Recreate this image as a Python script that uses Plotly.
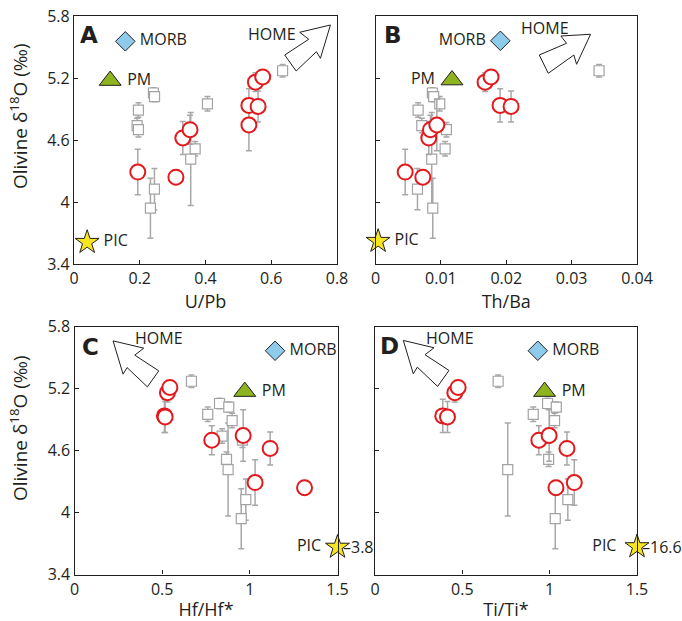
import plotly.graph_objects as go

# ---------------- data ----------------
# This study (red open circles): olivine d18O and errors (shared y across panels)
red_d18o = [4.29, 4.24, 4.62, 4.70, 4.745, 4.935, 4.925, 5.16, 5.21]
red_err = [0.22, 0.07, 0.16, 0.14, 0.25, 0.16, 0.15, 0.09, 0.06]
red_upb = [0.194, 0.310, 0.331, 0.353, 0.532, 0.532, 0.560, 0.552, 0.574]
red_thba = [0.00454, 0.00724, 0.00815, 0.0084, 0.00938, 0.01906, 0.02074, 0.01676, 0.01768]
red_hf = [1.030, 1.312, 1.116, 0.783, 0.962, 0.513, 0.517, 0.530, 0.544]
red_ti = [1.141, 1.036, 1.099, 0.938, 0.997, 0.388, 0.415, 0.457, 0.476]

# Literature data (gray open squares)
gray_d18o = [5.27, 5.055, 5.02, 4.95, 4.89, 4.74, 4.70, 4.515, 4.415, 4.125, 3.94]
gray_err = [0.06, 0.05, 0.05, 0.07, 0.07, 0.07, 0.07, 0.07, 0.45, 0.20, 0.29]
gray_upb = [0.6345, 0.2416, 0.245, 0.406, 0.196, 0.192, 0.196, 0.3685, 0.355, 0.2447, 0.2325]
gray_thba = [0.0342, 0.0087, 0.0089, 0.00983, 0.00652, 0.00708, 0.01085, 0.01065, 0.0086, 0.00642, 0.00876]
gray_hf = [0.667, 0.827, 0.880, 0.760, 0.899, 0.842, 0.958, 0.867, 0.876, 0.977, 0.951]
gray_ti = [0.705, 0.988, 1.038, 0.906, 1.028, 0.995, 0.940, 0.994, 0.760, 1.104, 1.032]

# Reference end-members per panel (A, B, C, D)
morb_x = [0.156, 0.0191, 1.144, 0.932]
morb_y = [5.555, 5.56, 5.565, 5.565]
pm_x = [0.110, 0.0117, 0.971, 0.971]
pm_y = [5.175, 5.18, 5.17, 5.17]
pic_x = [0.04, 0.0004, 1.5, 1.5]
pic_y = [3.61, 3.62, 3.665, 3.67]
pic_offscale = [None, None, "3.8", "16.6"]

# HOME label / arrow tip positions per panel
home_x = [0.603, 0.0259, 0.483, 0.43]
home_y = [5.623, 5.681, 5.688, 5.687]
tip_x = [0.780, 0.0329, 0.220, 0.162]
tip_y = [5.713, 5.623, 5.661, 5.665]

panel_letters = ["A", "B", "C", "D"]
x_titles = ["U/Pb", "Th/Ba", "Hf/Hf*", "Ti/Ti*"]
x_ranges = [[0, 0.8], [0, 0.04], [0, 1.5], [0, 1.5]]
x_tickvals = [[0, 0.2, 0.4, 0.6, 0.8], [0, 0.01, 0.02, 0.03, 0.04], [0, 0.5, 1, 1.5], [0, 0.5, 1, 1.5]]
x_ticktext = [["0", "0.2", "0.4", "0.6", "0.8"], ["0", "0.01", "0.02", "0.03", "0.04"],
              ["0", "0.5", "1", "1.5"], ["0", "0.5", "1", "1.5"]]
y_tickvals = [3.4, 4.0, 4.6, 5.2, 5.8]
y_ticktext = ["3.4", "4", "4.6", "5.2", "5.8"]

red_x = [red_upb, red_thba, red_hf, red_ti]
gray_x = [gray_upb, gray_thba, gray_hf, gray_ti]

# ---------------- style ----------------
W, H = 682, 621
FONT = "Open Sans"
TXT = "#231f20"
RED = "#e3191d"
GRAY = "#a3a3a3"
ERRC = "#a8a8a8"
LBL = 16

# pixel domains (left, right, top, bottom)
boxes = [(74, 337, 16, 264), (375.5, 637, 16, 264), (74.5, 337.5, 326.5, 574.5), (375, 637, 326.5, 574.5)]

# arrow outlines (pixel offsets from tip, y up)
arrow_up_right = [(0, 0), (-30.7, -7.3), (-21.7, -14.3), (-45.7, -30), (-34.3, -46), (-14, -26.7), (-10, -33.3)]
arrow_b = [(0, 0), (-29.7, -1.7), (-24, -9), (-51.3, -20.7), (-42.3, -39), (-16.7, -20.7), (-14, -30)]
arrow_up_left = [(-x, y) for x, y in arrow_up_right]
arrows = [arrow_up_right, arrow_b, arrow_up_left, arrow_up_left]

morb_text = [" MORB", "MORB ", " MORB", " MORB"]
pm_text = [" PM", "PM ", " PM", " PM"]
pic_text = [" PIC", " PIC", "PIC ", "PIC  "]

fig = go.Figure()
layout = dict(
    width=W, height=H, margin=dict(l=0, r=0, t=0, b=0, autoexpand=False),
    paper_bgcolor="white", plot_bgcolor="white", showlegend=False,
    font=dict(family=FONT, color=TXT, size=16),
)
annotations = []
shapes = []

for i in range(4):
    sfx = "" if i == 0 else str(i + 1)
    xa, ya = "x" + sfx, "y" + sfx
    l, r, t, b = boxes[i]
    layout["xaxis" + sfx] = dict(
        domain=[l / W, r / W], range=x_ranges[i], anchor=ya, automargin=False,
        tickvals=x_tickvals[i], ticktext=x_ticktext[i],
        ticks="inside", ticklen=4, tickcolor=TXT, tickwidth=1,
        showline=True, linecolor=TXT, linewidth=1.3, mirror=True,
        showgrid=False, zeroline=False,
        tickfont=dict(size=16, family=FONT, color=TXT),
        title=dict(text=x_titles[i], font=dict(size=18, family=FONT, color=TXT), standoff=6),
    )
    layout["yaxis" + sfx] = dict(
        domain=[1 - b / H, 1 - t / H], range=[3.4, 5.8], anchor=xa, automargin=False,
        tickvals=y_tickvals, ticktext=y_ticktext,
        ticks="inside", ticklen=4, tickcolor=TXT, tickwidth=1,
        showline=True, linecolor=TXT, linewidth=1.3, mirror=True,
        showgrid=False, zeroline=False,
        showticklabels=(i in (0, 2)),
        tickfont=dict(size=16, family=FONT, color=TXT),
    )

    # gray literature squares
    fig.add_trace(go.Scatter(
        x=gray_x[i], y=gray_d18o, mode="markers", xaxis=xa, yaxis=ya,
        marker=dict(symbol="square", size=10, color="white", line=dict(color=GRAY, width=1.2)),
        error_y=dict(type="data", array=gray_err, color=ERRC, thickness=1.5, width=3),
        cliponaxis=False,
    ))
    # red circles
    fig.add_trace(go.Scatter(
        x=red_x[i], y=red_d18o, mode="markers", xaxis=xa, yaxis=ya,
        marker=dict(symbol="circle", size=15, color="white", line=dict(color=RED, width=2)),
        error_y=dict(type="data", array=red_err, color=ERRC, thickness=1.5, width=3),
        cliponaxis=False,
    ))
    # MORB
    fig.add_trace(go.Scatter(
        x=[morb_x[i]], y=[morb_y[i]], mode="markers+text", xaxis=xa, yaxis=ya,
        marker=dict(symbol="diamond", size=15, color="#8ecbea", line=dict(color=TXT, width=1)),
        text=[morb_text[i]], textposition="middle left" if i == 1 else "middle right",
        textfont=dict(size=LBL, family=FONT, color=TXT), cliponaxis=False,
    ))
    # PM
    fig.add_trace(go.Scatter(
        x=[pm_x[i]], y=[pm_y[i]], mode="markers+text", xaxis=xa, yaxis=ya,
        marker=dict(symbol="triangle-up", size=19, color="#8db31e", line=dict(color=TXT, width=1)),
        text=[pm_text[i]], textposition="middle left" if i == 1 else "middle right",
        textfont=dict(size=LBL, family=FONT, color=TXT), cliponaxis=False,
    ))
    # PIC
    fig.add_trace(go.Scatter(
        x=[pic_x[i]], y=[pic_y[i]], mode="markers+text", xaxis=xa, yaxis=ya,
        marker=dict(symbol="star", size=18, color="#f6e621", line=dict(color=TXT, width=1)),
        text=[pic_text[i]], textposition="middle left" if i >= 2 else "middle right",
        textfont=dict(size=LBL, family=FONT, color=TXT), cliponaxis=False,
    ))
    if pic_offscale[i]:
        # off-scale value marked with a dash running out of the star
        annotations.append(dict(x=pic_x[i], y=pic_y[i], xref=xa, yref=ya,
                                text="\u2013" + pic_offscale[i],
                                showarrow=False, xanchor="left", yanchor="middle", xshift=3,
                                font=dict(size=LBL, family=FONT, color=TXT)))

    # HOME label
    annotations.append(dict(x=home_x[i], y=home_y[i], xref=xa, yref=ya, text="HOME",
                            showarrow=False, xanchor="center", yanchor="middle",
                            font=dict(size=LBL, family=FONT, color=TXT)))
    # HOME arrow outline
    pts = arrows[i]
    path = "M " + " L ".join(f"{px},{py}" for px, py in pts) + " Z"
    shapes.append(dict(type="path", xref=xa, yref=ya, xsizemode="pixel", ysizemode="pixel",
                       xanchor=tip_x[i], yanchor=tip_y[i], path=path,
                       fillcolor="white", line=dict(color=TXT, width=1)))

    # panel letter
    annotations.append(dict(x=[0.058, 0.067, 0.061, 0.054][i], y=[0.923, 0.923, 0.917, 0.922][i],
                            xref=xa + " domain", yref=ya + " domain", text=f"<b>{panel_letters[i]}</b>",
                            showarrow=False, xanchor="center", yanchor="middle",
                            font=dict(size=23, family="DejaVu Sans", color=TXT)))

# y-axis titles
for yc in (116, 428):
    annotations.append(dict(x=19 / W, y=1 - yc / H, xref="paper", yref="paper",
                            text="Olivine δ<sup>18</sup>O (‰)", textangle=-90, showarrow=False,
                            xanchor="center", yanchor="middle",
                            font=dict(size=19, family=FONT, color=TXT)))

layout["annotations"] = annotations
layout["shapes"] = shapes
fig.update_layout(**layout)
fig.write_html("out.html")
